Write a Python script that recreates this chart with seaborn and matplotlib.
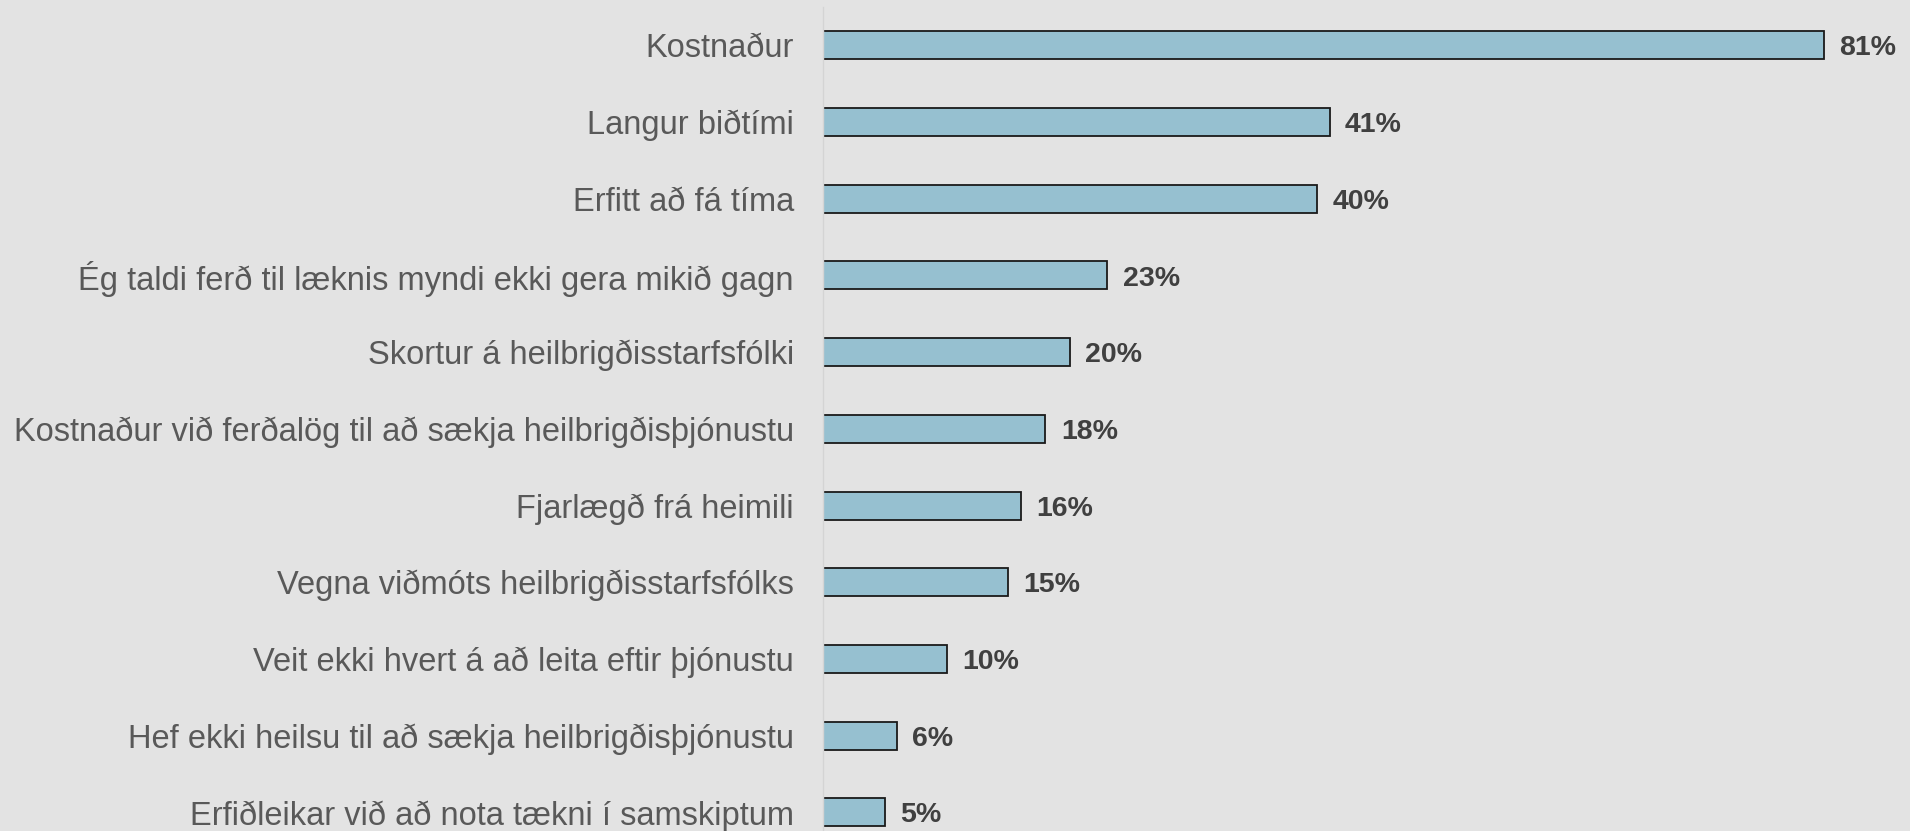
import matplotlib
matplotlib.use("Agg")
import matplotlib.pyplot as plt
import seaborn as sns
import pandas as pd

categories = [
    "Kostnaður",
    "Langur biðtími",
    "Erfitt að fá tíma",
    "Ég taldi ferð til læknis myndi ekki gera mikið gagn",
    "Skortur á heilbrigðisstarfsfólki",
    "Kostnaður við ferðalög til að sækja heilbrigðisþjónustu",
    "Fjarlægð frá heimili",
    "Vegna viðmóts heilbrigðisstarfsfólks",
    "Veit ekki hvert á að leita eftir þjónustu",
    "Hef ekki heilsu til að sækja heilbrigðisþjónustu",
    "Erfiðleikar við að nota tækni í samskiptum",
]
values = [81, 41, 40, 23, 20, 18, 16, 15, 10, 6, 5]
value_labels = [f"{v}%" for v in values]

sns.set_theme(style="white")
plt.rcParams["font.family"] = ["Liberation Sans", "DejaVu Sans"]

BG = "#E3E3E3"
W, H, DPI = 1910, 831, 100
fig = plt.figure(figsize=(W / DPI, H / DPI), dpi=DPI, facecolor=BG)
left_px = 823
top_px = 7
ax = fig.add_axes([left_px / W, 0, 1 - left_px / W, 1 - top_px / H])
ax.set_facecolor(BG)

df = pd.DataFrame({"cat": categories, "val": values})
sns.barplot(data=df, x="val", y="cat", orient="h", color="#96C0D0",
            saturation=1, width=0.365, edgecolor="#1a1a1a", linewidth=1.3, ax=ax)

px_per_unit_y = 76.7
ax.set_ylim(-0.5 + (H - top_px) / px_per_unit_y, -0.5)
ax.set_xlim(0, (W - left_px) / 12.36)

for i, (v, lab) in enumerate(zip(values, value_labels)):
    ax.annotate(lab, xy=(v, i), xytext=(11, -2.2), textcoords="offset points",
                va="center", ha="left", fontsize=20.5, fontweight="bold", color="#404040")

ax.set_xlabel("")
ax.set_ylabel("")
ax.set_xticks([])
ax.tick_params(axis="y", length=0, pad=21, labelsize=23.5, labelcolor="#595959")
for s in ["top", "right", "bottom"]:
    ax.spines[s].set_visible(False)
ax.spines["left"].set_color("#D4D4D4")
ax.spines["left"].set_linewidth(1)

fig.savefig("out.png", dpi=DPI, facecolor=BG)
